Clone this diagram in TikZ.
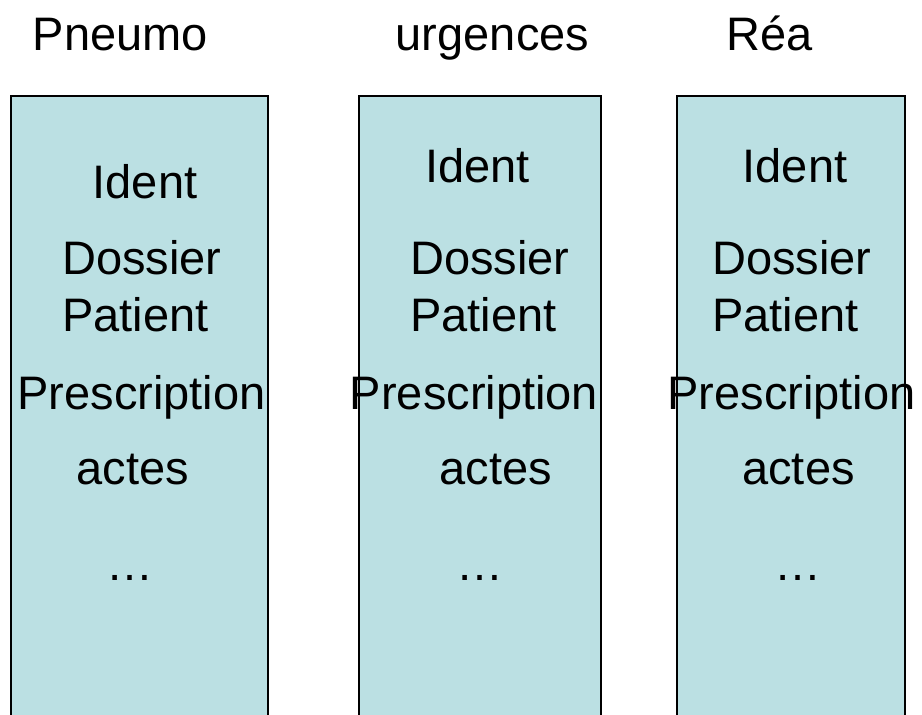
\documentclass[tikz,border=0pt]{standalone}
\usepackage{fontspec}
\setmainfont{Liberation Sans}
\definecolor{boxfill}{HTML}{BBE0E3}
\tikzset{
  colbox/.style={fill=boxfill, draw=black, line width=1.1pt},
  lbl/.style={inner sep=0pt, anchor=base, font=\fontsize{47pt}{56pt}\selectfont},
  lblw/.style={inner sep=0pt, anchor=base west, font=\fontsize{47pt}{56pt}\selectfont},
}
\begin{document}
\begin{tikzpicture}[x=1pt,y=-1pt]
\useasboundingbox (0,0) rectangle (922,715);
% columns
\draw[colbox] (11,96) rectangle (268,740);
\draw[colbox] (359,96) rectangle (601,740);
\draw[colbox] (677,96) rectangle (905,740);
% titles
\node[lbl] (t1) at (120.5,50) {Pneumo};
\node[lbl] (t2) at (492.5,50) {urgences};
\node[lbl] (t3) at (769.5,50) {Réa};
% column 1
\node[lbl] (i1) at (145,198) {Ident};
\node[lblw] (d1) at (62,274) {Dossier};
\node[lblw] (p1) at (62,331) {Patient};
\node[lbl] (r1) at (141.5,409) {Prescription};
\node[lbl] (a1) at (133,484) {actes};
\node[lbl] (e1) at (130,580) {…};
% column 2
\node[lbl] (i2) at (477.5,182) {Ident};
\node[lblw] (d2) at (410,274) {Dossier};
\node[lblw] (p2) at (410,331) {Patient};
\node[lbl] (r2) at (474,409) {Prescription};
\node[lbl] (a2) at (496,484) {actes};
\node[lbl] (e2) at (480,580) {…};
% column 3
\node[lbl] (i3) at (795,182) {Ident};
\node[lblw] (d3) at (712,274) {Dossier};
\node[lblw] (p3) at (712,331) {Patient};
\node[lbl] (r3) at (791.5,409) {Prescription};
\node[lbl] (a3) at (798.5,484) {actes};
\node[lbl] (e3) at (797.5,580) {…};
\end{tikzpicture}
\end{document}
